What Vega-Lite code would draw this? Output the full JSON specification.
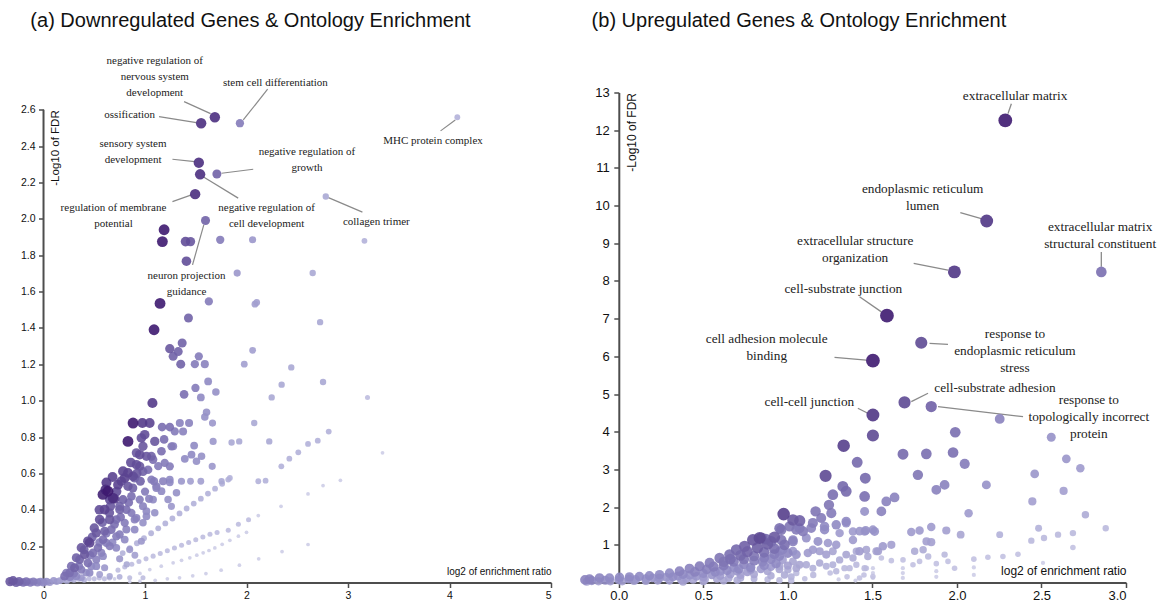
{
"$schema": "https://vega.github.io/schema/vega-lite/v6.json",
"padding": {"left": 5, "top": 10.5, "right": 5, "bottom": 5},
"background": "white",
"config": {
  "view": {"stroke": null},
  "axis": {"domainColor": "#4d4d4d", "tickColor": "#4d4d4d", "domainWidth": 2, "tickWidth": 1.5, "tickSize": 5, "labelFont": "Liberation Sans", "titleFont": "Liberation Sans", "labelColor": "#111", "titleColor": "#111", "titleFontWeight": "normal", "grid": false}
},
"datasets": {
"down": [
{"x":1.553,"y":2.526,"n":25},{"x":1.688,"y":2.559,"n":25},{"x":1.935,"y":2.526,"n":10},{"x":1.530,"y":2.309,"n":25},{"x":1.543,"y":2.245,"n":25},{"x":1.708,"y":2.247,"n":14},{"x":1.494,"y":2.136,"n":25},{"x":1.596,"y":1.991,"n":14},{"x":4.077,"y":2.559,"n":3},{"x":2.781,"y":2.123,"n":4},
{"x":1.188,"y":1.940,"n":30},{"x":1.171,"y":1.875,"n":30},{"x":1.399,"y":1.875,"n":18},{"x":1.448,"y":1.875,"n":16},{"x":1.741,"y":1.885,"n":10},{"x":2.060,"y":1.885,"n":6},{"x":1.408,"y":1.767,"n":18},{"x":1.908,"y":1.702,"n":6},{"x":1.148,"y":1.535,"n":30},{"x":1.629,"y":1.546,"n":10},{"x":2.083,"y":1.531,"n":5},{"x":2.100,"y":1.540,"n":5},{"x":1.428,"y":1.455,"n":14},{"x":3.162,"y":1.879,"n":3},{"x":2.652,"y":1.702,"n":4},{"x":2.725,"y":1.432,"n":4},
{"x":2.441,"y":1.183,"n":4},{"x":2.346,"y":1.088,"n":4},{"x":2.754,"y":1.103,"n":4},{"x":3.192,"y":1.018,"n":2},{"x":2.810,"y":0.830,"n":3},{"x":2.702,"y":0.780,"n":3},{"x":2.606,"y":0.762,"n":3},{"x":2.510,"y":0.716,"n":3},{"x":2.422,"y":0.681,"n":3},{"x":2.343,"y":0.639,"n":3},{"x":3.340,"y":0.713,"n":1},{"x":2.925,"y":0.562,"n":1},{"x":2.754,"y":0.533,"n":1},{"x":2.606,"y":0.487,"n":1},{"x":2.340,"y":0.419,"n":1},{"x":2.116,"y":0.368,"n":1},{"x":2.606,"y":0.209,"n":1},
{"x":1.089,"y":1.390,"n":30},{"x":1.244,"y":1.286,"n":16},{"x":1.366,"y":1.317,"n":14},{"x":1.277,"y":1.244,"n":14},{"x":1.327,"y":1.270,"n":14},{"x":1.352,"y":1.201,"n":14},{"x":1.530,"y":1.244,"n":10},{"x":1.491,"y":1.201,"n":10},{"x":1.589,"y":1.201,"n":9},{"x":1.978,"y":1.201,"n":5},{"x":2.060,"y":1.277,"n":5},{"x":2.248,"y":1.018,"n":4},{"x":1.622,"y":1.106,"n":8},{"x":1.497,"y":1.070,"n":10},{"x":1.698,"y":1.048,"n":7},{"x":1.385,"y":1.035,"n":12},{"x":1.550,"y":1.018,"n":8},{"x":1.073,"y":0.987,"n":22},{"x":1.606,"y":0.936,"n":7},{"x":1.589,"y":0.910,"n":7},
{"x":0.882,"y":0.877,"n":30},{"x":0.974,"y":0.877,"n":22},{"x":1.046,"y":0.877,"n":20},{"x":1.168,"y":0.855,"n":12},{"x":1.244,"y":0.855,"n":12},{"x":1.343,"y":0.877,"n":9},{"x":1.434,"y":0.877,"n":9},{"x":1.665,"y":0.877,"n":6},{"x":2.076,"y":0.877,"n":4},
{"x":0.832,"y":0.776,"n":30},{"x":0.997,"y":0.813,"n":18},{"x":1.096,"y":0.776,"n":16},{"x":1.188,"y":0.787,"n":12},{"x":1.293,"y":0.831,"n":10},{"x":1.375,"y":0.831,"n":9},{"x":1.484,"y":0.753,"n":8},{"x":1.671,"y":0.776,"n":6},{"x":1.853,"y":0.770,"n":4},{"x":1.928,"y":0.776,"n":4},{"x":2.224,"y":0.776,"n":4},
{"x":0.980,"y":0.749,"n":16},{"x":0.948,"y":0.703,"n":18},{"x":1.014,"y":0.694,"n":16},{"x":1.063,"y":0.694,"n":14},{"x":1.162,"y":0.722,"n":12},{"x":1.261,"y":0.749,"n":10},{"x":1.194,"y":0.658,"n":10},{"x":1.244,"y":0.639,"n":10},{"x":1.392,"y":0.680,"n":8},{"x":1.458,"y":0.703,"n":8},{"x":1.507,"y":0.667,"n":7},{"x":1.557,"y":0.694,"n":7},{"x":1.662,"y":0.639,"n":6},
{"x":0.915,"y":0.648,"n":18},{"x":0.832,"y":0.603,"n":20},{"x":0.882,"y":0.584,"n":18},{"x":0.800,"y":0.575,"n":20},{"x":0.954,"y":0.557,"n":14},{"x":1.089,"y":0.557,"n":10},{"x":1.178,"y":0.557,"n":9},{"x":1.112,"y":0.529,"n":9},{"x":1.244,"y":0.551,"n":8},{"x":1.359,"y":0.557,"n":6},{"x":1.448,"y":0.557,"n":5},{"x":1.550,"y":0.557,"n":5},{"x":1.754,"y":0.557,"n":4},{"x":1.836,"y":0.575,"n":3},{"x":2.116,"y":0.557,"n":3},{"x":2.188,"y":0.560,"n":3},
{"x":0.734,"y":0.538,"n":20},{"x":0.635,"y":0.502,"n":30},{"x":0.684,"y":0.465,"n":25},{"x":0.585,"y":0.484,"n":28},{"x":0.612,"y":0.511,"n":25},{"x":0.602,"y":0.401,"n":20},{"x":0.652,"y":0.346,"n":16},{"x":0.553,"y":0.346,"n":18},{"x":0.520,"y":0.273,"n":16},{"x":0.454,"y":0.218,"n":20},{"x":0.405,"y":0.154,"n":16},{"x":0.355,"y":0.126,"n":14},{"x":0.306,"y":0.081,"n":14},{"x":0.257,"y":0.053,"n":12},{"x":0.207,"y":0.035,"n":12},
{"x":0.915,"y":0.713,"n":16},{"x":0.964,"y":0.795,"n":18},{"x":0.948,"y":0.639,"n":16},{"x":0.898,"y":0.575,"n":14},{"x":0.832,"y":0.529,"n":16},{"x":0.866,"y":0.474,"n":12},{"x":0.783,"y":0.456,"n":14},{"x":0.750,"y":0.401,"n":14},{"x":0.816,"y":0.401,"n":12},{"x":0.717,"y":0.346,"n":12},{"x":0.800,"y":0.328,"n":10},{"x":0.668,"y":0.291,"n":12},{"x":0.602,"y":0.282,"n":14},{"x":0.750,"y":0.264,"n":10},{"x":0.586,"y":0.236,"n":12},{"x":0.652,"y":0.200,"n":10},{"x":0.536,"y":0.191,"n":12},{"x":0.487,"y":0.163,"n":12},{"x":0.586,"y":0.145,"n":8},{"x":0.437,"y":0.108,"n":12},{"x":0.520,"y":0.090,"n":8},{"x":0.602,"y":0.081,"n":6},{"x":0.372,"y":0.071,"n":10},{"x":0.454,"y":0.053,"n":8},{"x":0.553,"y":0.044,"n":5},{"x":0.652,"y":0.035,"n":4},{"x":0.323,"y":0.035,"n":8},{"x":0.750,"y":0.031,"n":3},{"x":0.849,"y":0.026,"n":2},{"x":0.980,"y":0.026,"n":2},
{"x":1.079,"y":0.456,"n":8},{"x":1.014,"y":0.392,"n":8},{"x":1.096,"y":0.383,"n":7},{"x":0.915,"y":0.355,"n":9},{"x":0.980,"y":0.328,"n":7},{"x":0.898,"y":0.291,"n":8},{"x":0.800,"y":0.236,"n":8},{"x":0.717,"y":0.191,"n":8},{"x":0.849,"y":0.181,"n":6},{"x":0.964,"y":0.227,"n":6},{"x":1.063,"y":0.566,"n":10},{"x":1.112,"y":0.520,"n":9},{"x":1.244,"y":0.566,"n":8},{"x":1.162,"y":0.502,"n":8},{"x":1.310,"y":0.493,"n":7},{"x":1.227,"y":0.456,"n":7},{"x":1.260,"y":0.419,"n":6},{"x":1.079,"y":0.676,"n":12},{"x":1.277,"y":0.749,"n":9},
{"x":0.783,"y":0.612,"n":20},{"x":0.766,"y":0.557,"n":18},{"x":0.700,"y":0.460,"n":20},{"x":0.650,"y":0.383,"n":16},{"x":0.437,"y":0.227,"n":18},{"x":0.372,"y":0.191,"n":16},{"x":0.323,"y":0.136,"n":14},{"x":0.273,"y":0.090,"n":12},{"x":0.224,"y":0.053,"n":10},{"x":0.652,"y":0.456,"n":18},{"x":0.750,"y":0.419,"n":14},{"x":0.866,"y":0.383,"n":10},{"x":0.948,"y":0.456,"n":10},{"x":0.980,"y":0.419,"n":9},{"x":1.014,"y":0.364,"n":8},{"x":0.898,"y":0.346,"n":9},{"x":0.816,"y":0.291,"n":9},{"x":0.717,"y":0.254,"n":10},{"x":0.619,"y":0.218,"n":10},{"x":0.569,"y":0.163,"n":9},{"x":0.520,"y":0.126,"n":9},{"x":0.470,"y":0.090,"n":8},{"x":0.420,"y":0.053,"n":7},{"x":0.372,"y":0.026,"n":6},
{"x":0.50,"y":0.30,"n":16},{"x":0.55,"y":0.40,"n":18},{"x":0.48,"y":0.25,"n":14},{"x":0.62,"y":0.55,"n":22},{"x":0.68,"y":0.58,"n":20},{"x":0.72,"y":0.50,"n":18},{"x":0.58,"y":0.33,"n":14},{"x":0.66,"y":0.42,"n":16},{"x":0.70,"y":0.32,"n":12},{"x":0.76,"y":0.36,"n":12},{"x":0.84,"y":0.44,"n":12},{"x":0.88,"y":0.52,"n":14},{"x":0.92,"y":0.60,"n":16},{"x":0.86,"y":0.66,"n":18},{"x":0.40,"y":0.18,"n":14},{"x":0.46,"y":0.15,"n":10},{"x":0.35,"y":0.09,"n":10},{"x":0.30,"y":0.05,"n":10},{"x":0.26,"y":0.03,"n":9},{"x":0.55,"y":0.22,"n":10},{"x":0.62,"y":0.27,"n":10},{"x":0.68,"y":0.22,"n":8},{"x":0.75,"y":0.13,"n":6},{"x":0.82,"y":0.10,"n":4},{"x":0.90,"y":0.15,"n":5},{"x":0.98,"y":0.61,"n":14},{"x":1.03,"y":0.62,"n":12},{"x":1.13,"y":0.64,"n":10},{"x":1.00,"y":0.50,"n":10},{"x":1.04,"y":0.46,"n":9},
{"x":-0.33,"y":0.005,"n":16},{"x":-0.30,"y":0.010,"n":16},{"x":-0.27,"y":0.000,"n":14},{"x":-0.24,"y":0.005,"n":14},{"x":-0.20,"y":0.000,"n":12},{"x":-0.17,"y":0.005,"n":12},{"x":-0.13,"y":0.000,"n":10},{"x":-0.10,"y":0.005,"n":10},{"x":-0.06,"y":0.000,"n":9},{"x":-0.03,"y":0.005,"n":8},{"x":0.00,"y":0.000,"n":8},{"x":0.03,"y":0.005,"n":7},{"x":0.06,"y":0.000,"n":6},{"x":0.10,"y":0.010,"n":6},{"x":0.13,"y":0.005,"n":5},{"x":0.16,"y":0.010,"n":5},{"x":0.19,"y":0.015,"n":4},{"x":0.23,"y":0.010,"n":4},{"x":0.27,"y":0.020,"n":4},{"x":0.30,"y":0.015,"n":3},{"x":0.35,"y":0.020,"n":3},{"x":0.40,"y":0.015,"n":3},{"x":0.45,"y":0.020,"n":2},{"x":0.50,"y":0.020,"n":2},{"x":0.55,"y":0.025,"n":2},{"x":0.60,"y":0.020,"n":2},{"x":0.65,"y":0.025,"n":2},{"x":0.70,"y":0.020,"n":1},
{"x":0.85,"y":0.005,"n":1},{"x":0.95,"y":0.008,"n":1},{"x":1.10,"y":0.012,"n":1},{"x":1.22,"y":0.020,"n":1},{"x":1.34,"y":0.026,"n":1},{"x":1.47,"y":0.037,"n":1},{"x":1.60,"y":0.049,"n":1},{"x":1.75,"y":0.068,"n":1},{"x":1.93,"y":0.095,"n":1},{"x":2.12,"y":0.130,"n":1},{"x":2.35,"y":0.170,"n":1},
{"x":0.95,"y":0.050,"n":1},{"x":1.047,"y":0.071,"n":1},{"x":1.16,"y":0.090,"n":1},{"x":1.277,"y":0.108,"n":1},{"x":1.36,"y":0.122,"n":1},{"x":1.441,"y":0.136,"n":1},{"x":1.51,"y":0.150,"n":1},{"x":1.573,"y":0.163,"n":1},{"x":1.63,"y":0.176,"n":1},{"x":1.688,"y":0.190,"n":1},{"x":1.76,"y":0.210,"n":1},{"x":1.836,"y":0.232,"n":1},{"x":1.92,"y":0.255,"n":1},{"x":2.00,"y":0.276,"n":1},
{"x":0.734,"y":0.068,"n":2},{"x":0.80,"y":0.085,"n":2},{"x":0.87,"y":0.100,"n":2},{"x":0.94,"y":0.115,"n":2},{"x":1.01,"y":0.130,"n":2},{"x":1.08,"y":0.145,"n":2},{"x":1.15,"y":0.160,"n":2},{"x":1.22,"y":0.175,"n":2},{"x":1.29,"y":0.190,"n":2},{"x":1.36,"y":0.205,"n":2},{"x":1.43,"y":0.220,"n":2},{"x":1.50,"y":0.235,"n":2},{"x":1.57,"y":0.250,"n":2},{"x":1.64,"y":0.265,"n":2},{"x":1.71,"y":0.275,"n":2},{"x":1.82,"y":0.287,"n":2},{"x":1.92,"y":0.320,"n":2},{"x":2.02,"y":0.345,"n":2},
{"x":0.78,"y":0.162,"n":3},{"x":0.85,"y":0.189,"n":3},{"x":0.92,"y":0.216,"n":3},{"x":0.99,"y":0.244,"n":3},{"x":1.06,"y":0.271,"n":3},{"x":1.13,"y":0.298,"n":3},{"x":1.20,"y":0.325,"n":3},{"x":1.27,"y":0.352,"n":3},{"x":1.34,"y":0.380,"n":3},{"x":1.41,"y":0.407,"n":3},{"x":1.48,"y":0.434,"n":3},{"x":1.55,"y":0.461,"n":3},{"x":1.62,"y":0.489,"n":3},{"x":1.69,"y":0.516,"n":3},{"x":1.76,"y":0.543,"n":3},{"x":1.82,"y":0.566,"n":3}
],
"up": [
{"x":2.286,"y":12.26,"n":60},{"x":2.176,"y":9.59,"n":45},{"x":1.985,"y":8.24,"n":45},{"x":2.854,"y":8.24,"n":20},{"x":1.586,"y":7.08,"n":60},{"x":1.789,"y":6.36,"n":35},{"x":1.503,"y":5.886,"n":60},{"x":1.503,"y":4.445,"n":45},{"x":1.690,"y":4.78,"n":35},{"x":1.848,"y":4.667,"n":25},
{"x":2.253,"y":4.34,"n":14},{"x":1.503,"y":3.90,"n":35},{"x":1.990,"y":3.987,"n":20},{"x":2.558,"y":3.854,"n":10},{"x":1.681,"y":3.404,"n":22},{"x":1.819,"y":3.413,"n":20},{"x":1.977,"y":3.449,"n":20},{"x":2.046,"y":3.148,"n":16},{"x":2.647,"y":3.280,"n":9},{"x":2.730,"y":3.030,"n":8},{"x":2.460,"y":2.880,"n":9},{"x":1.410,"y":3.190,"n":22},{"x":1.769,"y":2.856,"n":18},{"x":1.458,"y":2.768,"n":22},{"x":1.878,"y":2.459,"n":14},{"x":1.927,"y":2.590,"n":14},{"x":2.174,"y":2.590,"n":10},{"x":2.631,"y":2.430,"n":7},{"x":1.454,"y":2.283,"n":20},{"x":1.582,"y":2.150,"n":14},{"x":1.631,"y":2.257,"n":14},{"x":2.446,"y":2.150,"n":7},{"x":1.553,"y":1.886,"n":14},{"x":2.069,"y":1.840,"n":8},{"x":2.760,"y":1.800,"n":5},
{"x":1.460,"y":1.380,"n":10},{"x":1.513,"y":1.356,"n":10},{"x":1.730,"y":1.340,"n":8},{"x":1.779,"y":1.380,"n":8},{"x":1.848,"y":1.470,"n":8},{"x":1.937,"y":1.380,"n":7},{"x":2.022,"y":1.270,"n":6},{"x":2.253,"y":1.270,"n":4},{"x":2.483,"y":1.440,"n":4},{"x":2.515,"y":1.180,"n":3},{"x":2.440,"y":1.110,"n":3},{"x":2.598,"y":1.270,"n":3},{"x":2.686,"y":1.310,"n":3},{"x":2.880,"y":1.440,"n":3},{"x":2.686,"y":0.930,"n":2},
{"x":1.424,"y":0.830,"n":8},{"x":1.533,"y":0.830,"n":7},{"x":1.562,"y":0.960,"n":8},{"x":1.612,"y":1.000,"n":7},{"x":1.750,"y":0.830,"n":5},{"x":1.800,"y":0.870,"n":5},{"x":1.820,"y":1.090,"n":7},{"x":1.848,"y":1.070,"n":7},{"x":1.830,"y":0.690,"n":3},{"x":1.927,"y":0.740,"n":3},{"x":2.100,"y":0.620,"n":2},{"x":2.183,"y":0.670,"n":2},{"x":2.272,"y":0.690,"n":2},{"x":2.361,"y":0.750,"n":2},{"x":2.509,"y":0.520,"n":1},
{"x":1.503,"y":0.380,"n":1},{"x":1.503,"y":0.250,"n":1},{"x":1.503,"y":0.120,"n":1},{"x":1.680,"y":0.380,"n":1},{"x":1.680,"y":0.250,"n":1},{"x":1.680,"y":0.120,"n":1},{"x":1.878,"y":0.300,"n":1},{"x":1.878,"y":0.150,"n":1},{"x":2.100,"y":0.400,"n":1},{"x":2.100,"y":0.200,"n":1},
{"x":1.553,"y":0.650,"n":2},{"x":1.612,"y":0.580,"n":2},{"x":1.681,"y":0.600,"n":2},{"x":1.740,"y":0.470,"n":2},{"x":1.779,"y":0.560,"n":2},{"x":1.878,"y":0.500,"n":2},{"x":1.947,"y":0.560,"n":2},{"x":1.986,"y":0.380,"n":2},
{"x":1.330,"y":3.630,"n":40},{"x":1.223,"y":2.830,"n":35},{"x":1.325,"y":2.550,"n":22},{"x":1.345,"y":2.420,"n":22},{"x":1.266,"y":2.330,"n":20},{"x":1.243,"y":2.060,"n":18},{"x":1.164,"y":1.886,"n":18},{"x":0.975,"y":1.815,"n":40},{"x":1.030,"y":1.660,"n":28},{"x":1.070,"y":1.640,"n":25},{"x":1.197,"y":1.710,"n":16},{"x":1.257,"y":1.840,"n":16},{"x":1.345,"y":1.576,"n":10},{"x":1.454,"y":1.886,"n":10},
{"x":0.961,"y":1.400,"n":18},{"x":1.010,"y":1.490,"n":18},{"x":1.050,"y":1.400,"n":16},{"x":1.089,"y":1.356,"n":16},{"x":1.138,"y":1.444,"n":14},{"x":1.217,"y":1.490,"n":12},{"x":0.843,"y":1.180,"n":25},{"x":0.902,"y":1.090,"n":20},{"x":0.870,"y":1.150,"n":22},
{"x":1.306,"y":1.310,"n":8},{"x":1.385,"y":1.356,"n":8},{"x":1.454,"y":1.356,"n":8},{"x":1.030,"y":1.130,"n":12},{"x":1.109,"y":1.180,"n":10},{"x":1.178,"y":1.090,"n":10},{"x":1.237,"y":1.050,"n":8},
{"x":0.951,"y":0.830,"n":10},{"x":1.030,"y":0.830,"n":9},{"x":1.118,"y":0.780,"n":8},{"x":1.188,"y":0.830,"n":7},{"x":1.266,"y":0.830,"n":6},{"x":1.345,"y":0.740,"n":6},{"x":1.405,"y":0.830,"n":5},{"x":1.473,"y":0.690,"n":5},
{"x":0.970,"y":0.600,"n":7},{"x":1.030,"y":0.560,"n":6},{"x":1.109,"y":0.470,"n":5},{"x":1.188,"y":0.520,"n":5},{"x":1.266,"y":0.470,"n":4},{"x":1.335,"y":0.380,"n":3},{"x":1.405,"y":0.470,"n":3},{"x":1.464,"y":0.380,"n":2},
{"x":1.050,"y":0.250,"n":3},{"x":1.150,"y":0.200,"n":3},{"x":1.250,"y":0.250,"n":2},{"x":1.350,"y":0.150,"n":2},{"x":1.450,"y":0.200,"n":2},{"x":1.100,"y":0.100,"n":2},{"x":1.300,"y":0.080,"n":1},{"x":1.400,"y":0.050,"n":1},
{"x":0.951,"y":1.440,"n":20},{"x":1.069,"y":1.440,"n":16},{"x":1.148,"y":1.580,"n":16},{"x":1.217,"y":1.400,"n":12},{"x":1.286,"y":1.530,"n":12},{"x":1.345,"y":1.620,"n":12},{"x":1.424,"y":1.360,"n":9},{"x":1.503,"y":1.400,"n":9},{"x":0.961,"y":1.130,"n":18},{"x":1.030,"y":1.090,"n":14},{"x":1.286,"y":1.000,"n":8},{"x":1.385,"y":1.130,"n":8},{"x":1.464,"y":0.870,"n":6},{"x":1.523,"y":0.830,"n":6},
{"x":0.970,"y":0.870,"n":12},{"x":1.050,"y":0.740,"n":10},{"x":1.148,"y":0.870,"n":8},{"x":1.227,"y":0.740,"n":7},{"x":1.306,"y":0.600,"n":5},{"x":1.385,"y":0.650,"n":5},{"x":1.454,"y":0.380,"n":3},{"x":0.951,"y":0.430,"n":6},{"x":1.000,"y":0.340,"n":5},{"x":1.069,"y":0.470,"n":6},{"x":1.148,"y":0.380,"n":4},{"x":1.227,"y":0.430,"n":4},{"x":1.286,"y":0.300,"n":3},{"x":1.365,"y":0.380,"n":3},{"x":1.424,"y":0.120,"n":2},{"x":1.503,"y":0.160,"n":2},
{"x":0.833,"y":1.180,"n":35},{"x":0.793,"y":1.130,"n":30},{"x":0.744,"y":0.960,"n":25},{"x":0.695,"y":0.870,"n":22},{"x":0.655,"y":0.740,"n":20},{"x":0.596,"y":0.650,"n":18},{"x":0.537,"y":0.520,"n":16},{"x":0.478,"y":0.430,"n":16},{"x":0.418,"y":0.370,"n":14},{"x":0.359,"y":0.300,"n":14},{"x":0.300,"y":0.250,"n":12},{"x":0.241,"y":0.210,"n":12},{"x":0.181,"y":0.180,"n":12},{"x":0.122,"y":0.160,"n":12},{"x":0.063,"y":0.150,"n":12},{"x":0.004,"y":0.140,"n":12},{"x":-0.055,"y":0.120,"n":12},{"x":-0.114,"y":0.120,"n":13},{"x":-0.173,"y":0.090,"n":14},{"x":-0.200,"y":0.070,"n":14},
{"x":-0.19,"y":0.02,"n":7},{"x":-0.12,"y":0.03,"n":7},{"x":-0.05,"y":0.03,"n":7},{"x":0.02,"y":0.03,"n":7},{"x":0.09,"y":0.04,"n":7},{"x":0.16,"y":0.04,"n":7},{"x":0.23,"y":0.05,"n":7},{"x":0.30,"y":0.05,"n":7},{"x":0.37,"y":0.06,"n":7},{"x":0.44,"y":0.07,"n":6},{"x":0.51,"y":0.08,"n":6},{"x":0.58,"y":0.10,"n":6},{"x":0.65,"y":0.12,"n":6},{"x":0.72,"y":0.12,"n":5},{"x":0.80,"y":0.10,"n":4},{"x":0.88,"y":0.08,"n":3},{"x":0.95,"y":0.06,"n":3},{"x":1.02,"y":0.05,"n":3},
{"x":0.20,"y":0.12,"n":9},{"x":0.28,"y":0.14,"n":9},{"x":0.35,"y":0.17,"n":10},{"x":0.42,"y":0.20,"n":10},{"x":0.50,"y":0.24,"n":11},{"x":0.57,"y":0.28,"n":12},{"x":0.64,"y":0.32,"n":12},{"x":0.71,"y":0.36,"n":12},{"x":0.78,"y":0.40,"n":12},{"x":0.86,"y":0.45,"n":12},{"x":0.93,"y":0.50,"n":12},
{"x":0.62,"y":0.45,"n":16},{"x":0.68,"y":0.55,"n":16},{"x":0.74,"y":0.62,"n":18},{"x":0.80,"y":0.70,"n":18},{"x":0.86,"y":0.80,"n":20},{"x":0.92,"y":0.90,"n":20},{"x":0.98,"y":1.00,"n":20},{"x":0.70,"y":0.30,"n":9},{"x":0.78,"y":0.35,"n":9},{"x":0.85,"y":0.55,"n":13},{"x":0.90,"y":0.62,"n":13},{"x":0.95,"y":0.70,"n":13},{"x":1.00,"y":0.78,"n":13},{"x":0.88,"y":0.30,"n":6},{"x":0.95,"y":0.35,"n":6},{"x":1.00,"y":0.45,"n":7},{"x":1.05,"y":0.38,"n":6},{"x":0.80,"y":0.22,"n":6},{"x":0.90,"y":0.18,"n":5},{"x":0.98,"y":0.20,"n":5},{"x":1.02,"y":0.15,"n":4},{"x":0.72,"y":0.20,"n":7},{"x":0.60,"y":0.18,"n":8},{"x":0.50,"y":0.14,"n":8},{"x":0.40,"y":0.10,"n":8},
{"x":0.10,"y":0.08,"n":9},{"x":0.16,"y":0.10,"n":9},{"x":0.24,"y":0.12,"n":10},{"x":0.32,"y":0.15,"n":11},{"x":0.38,"y":0.22,"n":12},{"x":0.45,"y":0.28,"n":14},{"x":0.52,"y":0.35,"n":14},{"x":0.56,"y":0.42,"n":16},{"x":0.62,"y":0.55,"n":18},{"x":0.66,"y":0.62,"n":20},{"x":0.72,"y":0.72,"n":22},{"x":0.76,"y":0.82,"n":24},{"x":0.82,"y":0.92,"n":26},{"x":0.88,"y":1.02,"n":26},{"x":0.92,"y":1.20,"n":28},{"x":0.80,"y":0.58,"n":15},{"x":0.86,"y":0.66,"n":15},{"x":0.92,"y":0.75,"n":15},{"x":0.74,"y":0.48,"n":13},{"x":0.68,"y":0.40,"n":11},{"x":0.60,"y":0.30,"n":10},{"x":0.55,"y":0.20,"n":9},{"x":0.46,"y":0.16,"n":9},{"x":0.66,"y":0.22,"n":8},{"x":0.76,"y":0.28,"n":8},{"x":0.84,"y":0.36,"n":8},{"x":0.90,"y":0.42,"n":8},{"x":-0.16,"y":0.05,"n":11},{"x":-0.08,"y":0.06,"n":11},{"x":0.00,"y":0.07,"n":10},{"x":0.06,"y":0.09,"n":10},{"x":0.38,"y":0.02,"n":6},{"x":0.50,"y":0.03,"n":6},{"x":0.62,"y":0.05,"n":6},{"x":0.70,"y":0.06,"n":5}
]
},
"spacing": 34,
"bounds": "flush",
"resolve": {"scale": {"x": "independent", "y": "independent", "color": "independent", "size": "independent"}},
"hconcat": [
{
  "width": 543, "height": 490,
  "title": {"text": "(a) Downregulated Genes & Ontology Enrichment", "anchor": "start", "dx": 25, "offset": 24.5, "fontSize": 20, "font": "Liberation Sans", "fontWeight": "normal", "color": "#111"},
  "encoding": {
    "x": {"field": "x", "type": "quantitative", "scale": {"domain": [-0.35, 5], "nice": false, "zero": false},
          "axis": {"values": [0, 1, 2, 3, 4, 5], "format": "d", "labelFontSize": 10.5, "labelPadding": 3, "title": "log2 of enrichment ratio", "titleFontSize": 10, "titleX": 543, "titleY": -11.5, "titleAlign": "right", "titleBaseline": "middle"}},
    "y": {"field": "y", "type": "quantitative", "scale": {"domain": [0, 2.695], "nice": false, "zero": false},
          "axis": {"values": [0.2, 0.4, 0.6, 0.8, 1.0, 1.2, 1.4, 1.6, 1.8, 2.0, 2.2, 2.4, 2.6], "format": ".1f", "offset": -35.5, "domain": false, "labelFontSize": 10.5, "labelPadding": 3.5, "title": "-Log10 of FDR", "titleFontSize": 11.5, "titleAngle": 270, "titleX": 6, "titleY": 17.3, "titleAlign": "right", "titleBaseline": "top"}}
  },
  "layer": [
    {"data": {"values": [{"x": 0, "y": 0, "y2": 2.6}]}, "mark": {"type": "rule", "color": "#4d4d4d", "strokeWidth": 2}, "encoding": {"y2": {"field": "y2"}}},
    {"data": {"values": [
      {"x":1.385,"y":2.645,"x2":1.646,"y2":2.579},{"x":1.138,"y":2.562,"x2":1.507,"y2":2.529},{"x":2.208,"y":2.713,"x2":1.968,"y2":2.544},{"x":1.270,"y":2.328,"x2":1.491,"y2":2.315},{"x":2.066,"y":2.273,"x2":1.754,"y2":2.251},{"x":1.270,"y":2.095,"x2":1.458,"y2":2.132},{"x":1.918,"y":2.114,"x2":1.573,"y2":2.232},{"x":1.468,"y":1.747,"x2":1.579,"y2":1.967},{"x":3.912,"y":2.484,"x2":4.057,"y2":2.544},{"x":3.142,"y":2.037,"x2":2.807,"y2":2.117}
    ]}, "mark": {"type": "rule", "color": "#8a8a8a", "strokeWidth": 1.2}, "encoding": {"x2": {"field": "x2"}, "y2": {"field": "y2"}}},
    {"data": {"name": "down"}, "mark": {"type": "circle", "opacity": 0.9},
     "encoding": {
       "size": {"field": "n", "type": "quantitative", "scale": {"type": "pow", "exponent": 0.4, "domain": [1, 30], "range": [14, 118], "zero": false}, "legend": null},
       "color": {"field": "n", "type": "quantitative", "scale": {"type": "pow", "exponent": 0.5, "domain": [1, 8, 30], "range": ["#cdcde7", "#8f89c3", "#3e1a70"]}, "legend": null},
       "order": {"field": "n", "type": "quantitative", "sort": "ascending"}
     }},
    {"data": {"values": [
      {"x":1.096,"y":2.868,"label":"negative regulation of\nnervous system\ndevelopment"},
      {"x":0.849,"y":2.571,"label":"ossification"},
      {"x":2.285,"y":2.746,"label":"stem cell differentiation"},
      {"x":0.882,"y":2.410,"label":"sensory system\ndevelopment"},
      {"x":2.596,"y":2.366,"label":"negative regulation of\ngrowth"},
      {"x":0.689,"y":2.062,"label":"regulation of membrane\npotential"},
      {"x":2.198,"y":2.062,"label":"negative regulation of\ncell development"},
      {"x":1.409,"y":1.688,"label":"neuron projection\nguidance"},
      {"x":3.837,"y":2.430,"label":"MHC protein complex"},
      {"x":3.279,"y":1.985,"label":"collagen trimer"}
    ]}, "mark": {"type": "text", "font": "Liberation Serif", "fontSize": 11, "lineHeight": 16, "lineBreak": "\n", "color": "#222", "align": "center", "baseline": "middle"},
     "encoding": {"text": {"field": "label"}}}
  ]
},
{
  "width": 541, "height": 490,
  "title": {"text": "(b) Upregulated Genes & Ontology Enrichment", "anchor": "start", "dx": 11.5, "offset": 56, "fontSize": 20, "font": "Liberation Sans", "fontWeight": "normal", "color": "#111"},
  "encoding": {
    "x": {"field": "x", "type": "quantitative", "scale": {"domain": [-0.2, 3], "nice": false, "zero": false},
          "axis": {"values": [0, 0.5, 1, 1.5, 2, 2.5, 3], "format": ".1f", "labelFontSize": 13, "labelPadding": 2, "title": "log2 of enrichment ratio", "titleFontSize": 12, "titleX": 541, "titleY": -12.5, "titleAlign": "right", "titleBaseline": "middle"}},
    "y": {"field": "y", "type": "quantitative", "scale": {"domain": [0, 13], "nice": false, "zero": false},
          "axis": {"values": [1, 2, 3, 4, 5, 6, 7, 8, 9, 10, 11, 12, 13], "format": "d", "offset": -33.8, "labelFontSize": 13, "labelPadding": 4.5, "title": "-Log10 of FDR", "titleFontSize": 12, "titleAngle": 270, "titleX": 8, "titleY": 0, "titleAlign": "right", "titleBaseline": "top"}}
  },
  "layer": [
    {"data": {"values": [
      {"x":2.322,"y":12.70,"x2":2.302,"y2":12.44},{"x":2.020,"y":9.81,"x2":2.144,"y2":9.655},{"x":1.744,"y":8.464,"x2":1.947,"y2":8.286},{"x":2.854,"y":8.77,"x2":2.854,"y2":8.376},{"x":1.424,"y":7.58,"x2":1.553,"y2":7.18},{"x":1.838,"y":6.344,"x2":1.947,"y2":6.318},{"x":1.276,"y":5.974,"x2":1.464,"y2":5.90},{"x":1.414,"y":4.623,"x2":1.473,"y2":4.49},{"x":1.829,"y":5.02,"x2":1.730,"y2":4.80},{"x":1.888,"y":4.667,"x2":2.391,"y2":4.40}
    ]}, "mark": {"type": "rule", "color": "#8a8a8a", "strokeWidth": 1.3}, "encoding": {"x2": {"field": "x2"}, "y2": {"field": "y2"}}},
    {"data": {"name": "up"}, "mark": {"type": "circle", "opacity": 0.9},
     "encoding": {
       "size": {"field": "n", "type": "quantitative", "scale": {"type": "pow", "exponent": 0.4, "domain": [1, 60], "range": [18, 190], "zero": false}, "legend": null},
       "color": {"field": "n", "type": "quantitative", "scale": {"type": "pow", "exponent": 0.5, "domain": [1, 12, 60], "range": ["#cdcde7", "#8f89c3", "#3e1a70"]}, "legend": null},
       "order": {"field": "n", "type": "quantitative", "sort": "ascending"}
     }},
    {"data": {"values": [
      {"x":2.344,"y":12.92,"label":"extracellular matrix"},
      {"x":1.797,"y":10.44,"label":"endoplasmic reticulum\nlumen"},
      {"x":1.398,"y":9.07,"label":"extracellular structure\norganization"},
      {"x":2.847,"y":9.44,"label":"extracellular matrix\nstructural constituent"},
      {"x":1.328,"y":7.80,"label":"cell-substrate junction"},
      {"x":2.343,"y":6.58,"label":"response to\nendoplasmic reticulum\nstress"},
      {"x":0.875,"y":6.46,"label":"cell adhesion molecule\nbinding"},
      {"x":1.127,"y":4.781,"label":"cell-cell junction"},
      {"x":2.225,"y":5.152,"label":"cell-substrate adhesion"},
      {"x":2.780,"y":4.83,"label":"response to\ntopologically incorrect\nprotein"}
    ]}, "mark": {"type": "text", "font": "Liberation Serif", "fontSize": 13.3, "lineHeight": 17, "lineBreak": "\n", "color": "#222", "align": "center", "baseline": "middle"},
     "encoding": {"text": {"field": "label"}}}
  ]
}
]
}
